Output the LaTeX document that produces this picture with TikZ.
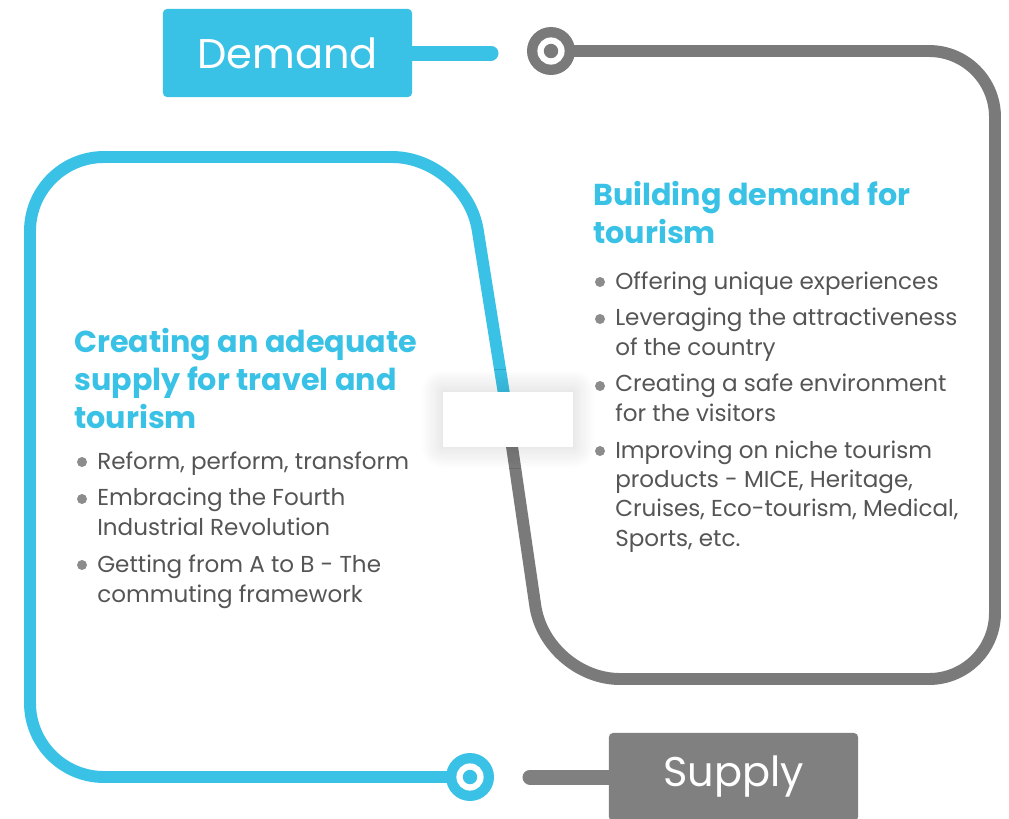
\documentclass[tikz,border=0pt]{standalone}
\usepackage{fontspec}
\setmainfont{Poppins}
\usetikzlibrary{positioning,shadows.blur}

\definecolor{tourblue}{RGB}{58,194,230}
\definecolor{tourgray}{RGB}{122,122,122}
\definecolor{boxgray}{RGB}{128,128,128}
\definecolor{bodygray}{RGB}{85,85,85}

\tikzset{
  loopline/.style={line width=8.5pt, line join=round},
  tag/.style={rounded corners=0.1cm, minimum width=6.225cm, minimum height=2.2cm,
    inner sep=0pt, text=white, font=\fontsize{29.5}{34}\selectfont},
  tab/.style={line width=0.375cm, line cap=round},
  ring/.style={circle, minimum size=1.2cm, inner sep=0pt},
  hole/.style={circle, fill=white, minimum size=0.68cm, inner sep=0pt},
  pin/.style={circle, minimum size=0.36cm, inner sep=0pt},
  gapbox/.style={fill=white, minimum width=3.25cm, minimum height=1.375cm,
    blur shadow={shadow xshift=0pt, shadow yshift=0pt, shadow blur steps=12,
      shadow blur radius=0.55cm, shadow opacity=18}},
  heading/.style={anchor=base west, align=left, inner sep=0pt, text=tourblue,
    font=\fontsize{21.5}{27}\selectfont\bfseries},
  item/.style={anchor=base west, align=left, inner sep=0pt, text=bodygray,
    font=\fontsize{16.4}{20.8}\selectfont},
  bul/.style={circle, fill=gray!90, minimum size=0.25cm, inner sep=0pt},
}

\begin{document}
\begin{tikzpicture}[x=0.025cm, y=-0.025cm]
  \useasboundingbox (0,0) rectangle (1009,818);

  % loop ends and the gap where they meet
  \coordinate (gap) at (508,419);
  \coordinate (sEnd) at (470,777);
  \coordinate (dEnd) at (551,51);
  \draw[loopline, tourblue, rounded corners=1.85cm] (sEnd) -- (30,777) -- (30,157) -- (466,157) -- (gap);
  \draw[loopline, tourgray, rounded corners=1.85cm] (gap) -- (546,679)
    [rounded corners=1.65cm] -- (995,679) -- (995,51) -- (dEnd);
  \node[gapbox] (gapBox) at (gap) {};

  \node[ring, fill=tourblue] (sRing) at (sEnd) {};
  \node[hole] (sHole) at (sRing) {};
  \node[pin, fill=tourblue] (sPin) at (sRing) {};
  \node[ring, fill=tourgray] (dRing) at (dEnd) {};
  \node[hole] (dHole) at (dRing) {};
  \node[pin, fill=tourgray] (dPin) at (dRing) {};

  % tags
  \node[tag, fill=tourblue] (demand) at (287.5,53) {Demand};
  \coordinate (demTip) at (491,53);
  \draw[tab, tourblue] (demand.east) -- (demTip);
  \node[tag, fill=boxgray] (supply) at (733.5,777) {Supply};
  \coordinate (supTip) at (530,777);
  \draw[tab, boxgray] (supTip) -- (supply.west);

  % demand side (anchored on the last line)
  \node[heading] (hdDemand) at (593,243) {Building demand for\\tourism};
  \node[item] (d1) at (615,289) {Offering unique experiences};
  \node[item] (d2) at (615,355) {Leveraging the attractiveness\\of the country};
  \node[item] (d3) at (615,421) {Creating a safe environment\\for the visitors};
  \node[item] (d4) at (615,546) {Improving on niche tourism\\products - MICE, Heritage,\\Cruises, Eco-tourism, Medical,\\Sports, etc.};
  \node[bul] (d1b) at (600,282) {};
  \node[bul] (d2b) at (600,319) {};
  \node[bul] (d3b) at (600,386) {};
  \node[bul] (d4b) at (600,451) {};

  % supply side
  \node[heading] (hdSupply) at (74,428) {Creating an adequate\\supply for travel and\\tourism};
  \node[item] (s1) at (97,469) {Reform, perform, transform};
  \node[item] (s2) at (97,535) {Embracing the Fourth\\Industrial Revolution};
  \node[item] (s3) at (97,602) {Getting from A to B - The\\commuting framework};
  \node[bul] (s1b) at (82,462) {};
  \node[bul] (s2b) at (82,499) {};
  \node[bul] (s3b) at (82,565) {};
\end{tikzpicture}
\end{document}
